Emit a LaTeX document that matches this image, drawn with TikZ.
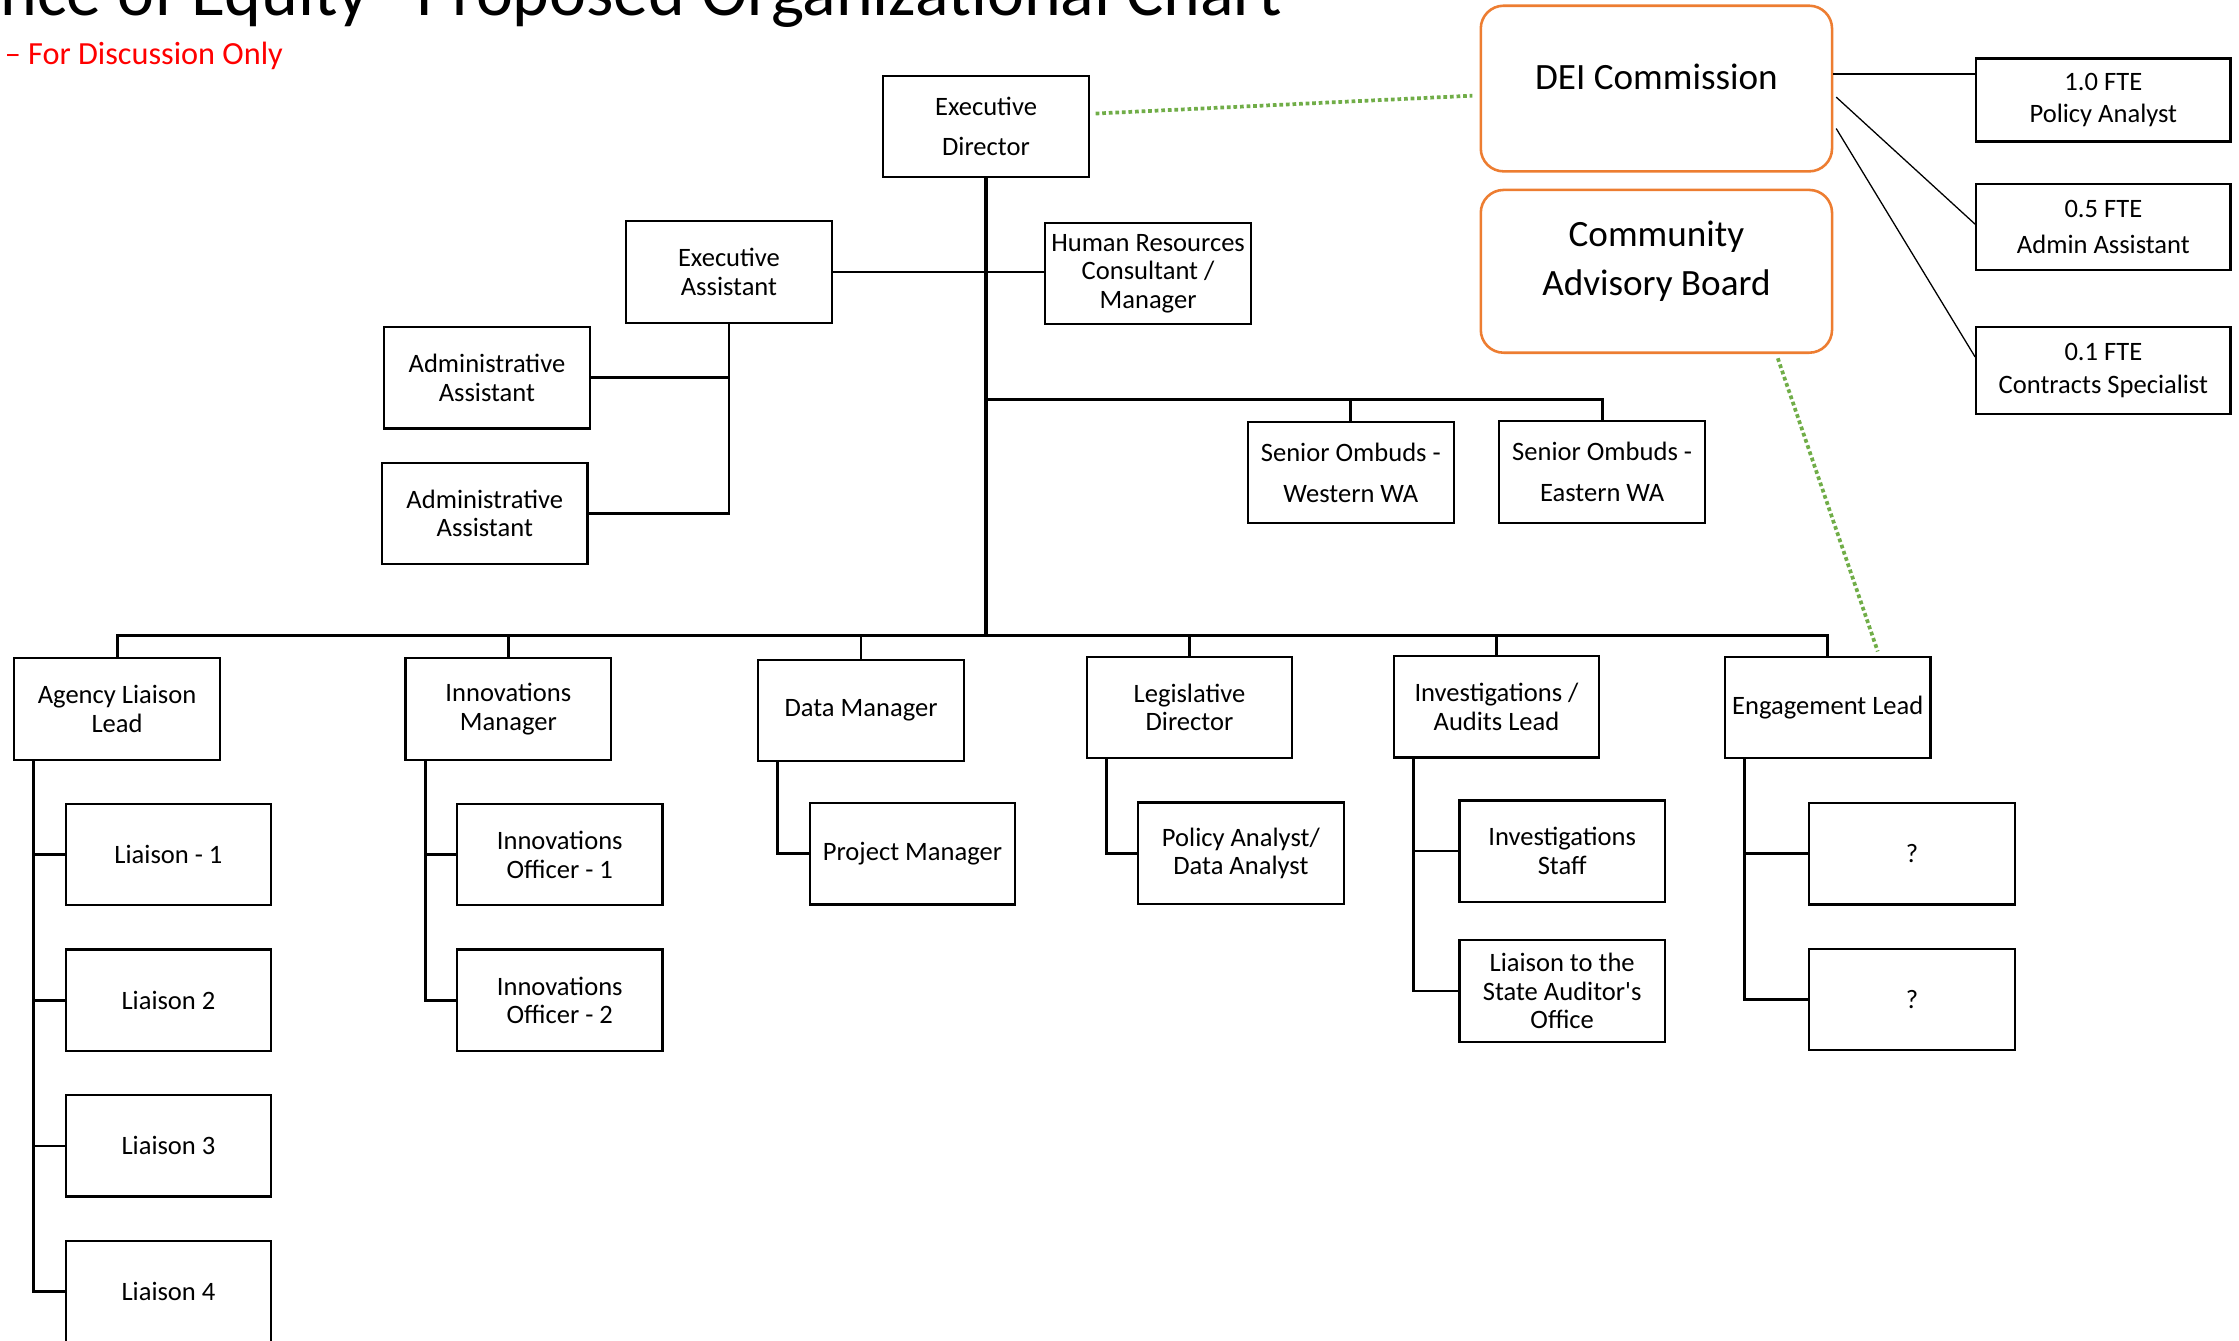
\documentclass[tikz,border=0pt]{standalone}
\usepackage{fontspec}
\setmainfont{Carlito}
\usetikzlibrary{calc}
\definecolor{orng}{HTML}{ED7D31}
\definecolor{grn}{HTML}{70AD47}
\begin{document}
\begin{tikzpicture}[x=0.5pt,y=-0.5pt,
  box/.style={draw=black,line width=0.8pt,fill=white,minimum width=72pt,minimum height=35.5pt,inner sep=1pt,align=center,font=\fontsize{9.3}{10}\selectfont},
  obox/.style={draw=orng,line width=0.9pt,fill=white,rounded corners=8pt,minimum width=123pt,minimum height=58pt,inner sep=0pt},
  bigtext/.style={align=center,inner sep=0pt,font=\fontsize{13}{17}\selectfont},
  ftebox/.style={box,minimum width=89pt,minimum height=29pt},
  conn/.style={draw=black,line width=1pt},
  trunk/.style={draw=black,line width=1.5pt},
  thinln/.style={draw=black,line width=0.45pt},
  gdot/.style={draw=grn,line width=1.3pt,dash pattern=on 1.3pt off 1pt}]
\fill[white] (0,0) rectangle (1568,939);
\useasboundingbox (0,0) rectangle (1568,939);

% title
\node[anchor=base west,inner sep=0pt,font=\fontsize{24.5}{29}\selectfont] (title) at (0,10.5) {nce of Equity” Proposed Organizational Chart};
\node[anchor=base west,inner sep=0pt,text=red,font=\fontsize{11.3}{13}\selectfont] (sub) at (3,45.5) {– For Discussion Only};

\coordinate (bbus) at (690,445);
\coordinate (obus) at (690,280);

% top part
\node[box,font=\fontsize{9.3}{14}\selectfont] (ed) at (690.5,88.5) {Executive\\Director};
\draw[trunk] (ed.south) -- (ed.south |- bbus);
\node[box] (ea) at (510.5,190.5) {Executive\\Assistant};
\node[box] (hr) at (804,191.5) {Human Resources\\Consultant /\\Manager};
\node[box] (aa1) at (341,264.5) {Administrative\\Assistant};
\node[box] (aa2) at (339.5,359.5) {Administrative\\Assistant};
\node[box,font=\fontsize{9.3}{14.5}\selectfont] (so1) at (946,331) {Senior Ombuds -\\Western WA};
\node[box,font=\fontsize{9.3}{14.5}\selectfont] (so2) at (1122,330.5) {Senior Ombuds -\\Eastern WA};

\draw[conn] (ea.east) -- (ea.east -| hr.west);
\draw[conn] (ea.south) |- (aa2.east);
\draw[conn] (aa1.east) -- (aa1.east -| ea.south);
\draw[conn] (obus) -| (so2.north);
\draw[conn] (so1.north) -- (so1.north |- obus);

% orange boxes
\node[obox] (dei) at (1160,62) {};
\node[bigtext] (deit) at (1160,54) {DEI Commission};
\node[obox,minimum height=57pt] (cab) at (1160,190) {};
\node[bigtext] (cabt) at (1160,183) {Community\\Advisory Board};

% FTE boxes
\node[ftebox,font=\fontsize{9.3}{11}\selectfont] (f1) at (1473,70) {1.0 FTE\\Policy Analyst};
\node[ftebox,minimum height=30pt,font=\fontsize{9.3}{12.5}\selectfont] (f2) at (1473,159) {0.5 FTE\\Admin Assistant};
\node[ftebox,minimum height=30.5pt,font=\fontsize{9.3}{11.5}\selectfont] (f3) at (1473,259.5) {0.1 FTE\\Contracts Specialist};

\coordinate (d1) at ($(dei.east)+(0,5pt)$);
\coordinate (d2) at ($(dei.east)+(1pt,-3pt)$);
\coordinate (d3) at ($(dei.east)+(1pt,-14pt)$);
\draw[thinln,line width=0.6pt] (d1) -- (d1 -| f1.west);
\draw[thinln] (d2) -- ($(f2.west)+(0,1pt)$);
\draw[thinln] (d3) -- ($(f3.west)+(0,4.75pt)$);

% green dotted
\draw[gdot] ($(ed.east)+(2pt,4.5pt)$) -- ($(dei.west)+(-2.5pt,-2.5pt)$);

% bottom row
\node[box] (al) at (82,496.5) {Agency Liaison\\Lead};
\node[box] (im) at (356,496.5) {Innovations\\Manager};
\node[box] (dm) at (603,497.5) {Data Manager};
\node[box] (ld) at (833,495.5) {Legislative\\Director};
\node[box] (ia) at (1048,495) {Investigations /\\Audits Lead};
\node[box] (el) at (1280,495.5) {Engagement Lead};

\draw[conn] (al.north) |- (bbus) -| (el.north);
\foreach \n in {im,dm,ld,ia} \draw[conn] (\n.north) -- (\n.north |- bbus);

\draw[gdot] ($(cab.south)+(42.5pt,-1.5pt)$) -- ($(el.north)+(17.5pt,1.5pt)$);

% children
\node[box] (l1) at (118,598.5) {Liaison - 1};
\node[box] (l2) at (118,700.5) {Liaison 2};
\node[box] (l3) at (118,802.5) {Liaison 3};
\node[box] (l4) at (118,904.5) {Liaison 4};
\node[box] (io1) at (392,598.5) {Innovations\\Officer - 1};
\node[box] (io2) at (392,700.5) {Innovations\\Officer - 2};
\node[box] (pm) at (639,598) {Project Manager};
\node[box] (pa) at (869,597.5) {Policy Analyst/\\Data Analyst};
\node[box] (is) at (1094,596) {Investigations\\Staff};
\node[box] (lsa) at (1094,694) {Liaison to the\\State Auditor\textquotesingle s\\Office};
\node[box] (q1) at (1339,598) {?};
\node[box] (q2) at (1339,700) {?};

\coordinate (alt) at ($(al.south west)+(7.25pt,0)$);
\coordinate (imt) at ($(im.south west)+(7.25pt,0)$);
\coordinate (dmt) at ($(dm.south west)+(7.25pt,0)$);
\coordinate (ldt) at ($(ld.south west)+(7.25pt,0)$);
\coordinate (iat) at ($(ia.south west)+(7.25pt,0)$);
\coordinate (elt) at ($(el.south west)+(7.25pt,0)$);

\draw[conn] (alt) |- (l4.west);
\foreach \n in {l1,l2,l3} \draw[conn] (\n.west) -- (\n.west -| alt);
\draw[conn] (imt) |- (io2.west);
\draw[conn] (io1.west) -- (io1.west -| imt);
\draw[conn] (dmt) |- (pm.west);
\draw[conn] (ldt) |- (pa.west);
\draw[conn] (iat) |- (lsa.west);
\draw[conn] (is.west) -- (is.west -| iat);
\draw[conn] (elt) |- (q2.west);
\draw[conn] (q1.west) -- (q1.west -| elt);
\end{tikzpicture}
\end{document}
